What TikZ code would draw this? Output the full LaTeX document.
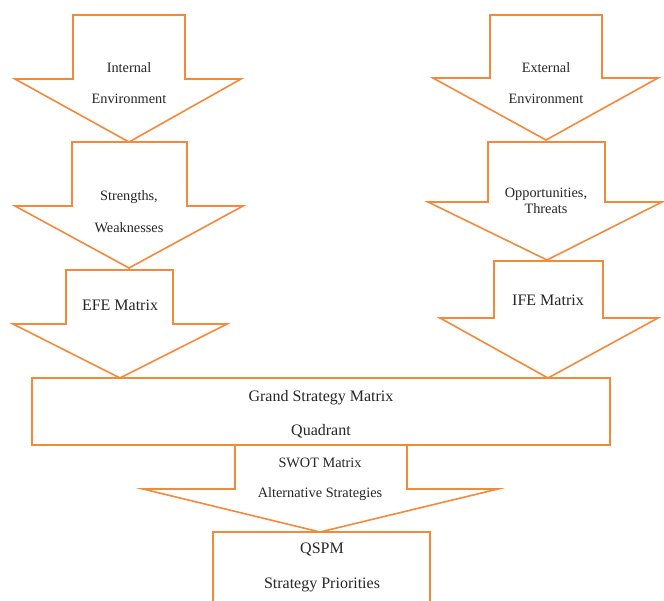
\documentclass[tikz,border=0pt]{standalone}
\usepackage{fontspec}
\setmainfont{Liberation Serif}
\definecolor{arroworange}{HTML}{F5893A}
\tikzset{
  shapeline/.style={draw=arroworange, line width=1.6pt, fill=white, line join=miter},
  smalltext/.style={font=\fontsize{14.3}{17}\selectfont, text=black!85, inner sep=0pt, anchor=base},
  bigtext/.style={font=\fontsize{16}{19}\selectfont, text=black!85, inner sep=0pt, anchor=base}
}
% #1 shaft left, #2 shaft right, #3 shaft top, #4 head y, #5 head left, #6 head right, #7 tip x, #8 tip y
\newcommand{\blockarrowpath}[8]{%
  \path[shapeline] (#1,#3) -- (#2,#3) -- (#2,#4) -- (#6,#4) -- (#7,#8) -- (#5,#4) -- (#1,#4) -- cycle;}
\begin{document}
\begin{tikzpicture}[x=1pt,y=-1pt]
\useasboundingbox (0,0) rectangle (664,600);
\clip (0,0) rectangle (664,600);
% left column
\blockarrowpath{73}{185}{15}{79}{15}{241}{129}{142}
\blockarrowpath{72}{187}{142}{206}{15}{243}{129}{268}
\blockarrowpath{66}{173}{270}{324}{13}{227}{120}{378}
% right column
\blockarrowpath{490}{602}{15}{78}{433}{658}{546}{140}
\blockarrowpath{488}{605}{142}{202}{428}{662}{547}{260}
\blockarrowpath{494}{603}{261}{318}{440}{658}{548}{378}
% grand box
\path[shapeline] (32,378) rectangle (610,445);
% SWOT arrow
\blockarrowpath{235}{407}{445}{489}{143}{498}{320}{532}
% QSPM box (open at the bottom, cut by the page edge)
\path[shapeline] (213,620) -- (213,532) -- (430,532) -- (430,620);
% texts
\node[smalltext] (internal) at (129,72) {Internal};
\node[smalltext] (internalenv) at (129,103) {Environment};
\node[smalltext] (strengths) at (129,200) {Strengths,};
\node[smalltext] (weak) at (129,232) {Weaknesses};
\node[bigtext] (efe) at (120,310) {EFE Matrix};
\node[smalltext] (external) at (546,72) {External};
\node[smalltext] (externalenv) at (546,103) {Environment};
\node[smalltext] (opp) at (546,197) {Opportunities,};
\node[smalltext] (threats) at (546,213) {Threats};
\node[bigtext] (ife) at (548,305) {IFE Matrix};
\node[bigtext] (grand) at (321,401) {Grand Strategy Matrix};
\node[bigtext] (quadrant) at (321,435) {Quadrant};
\node[smalltext] (swot) at (320,467) {SWOT Matrix};
\node[smalltext] (alt) at (320,497) {Alternative Strategies};
\node[bigtext] (qspm) at (322,553) {QSPM};
\node[bigtext] (prior) at (322,588) {Strategy Priorities};
\end{tikzpicture}
\end{document}
